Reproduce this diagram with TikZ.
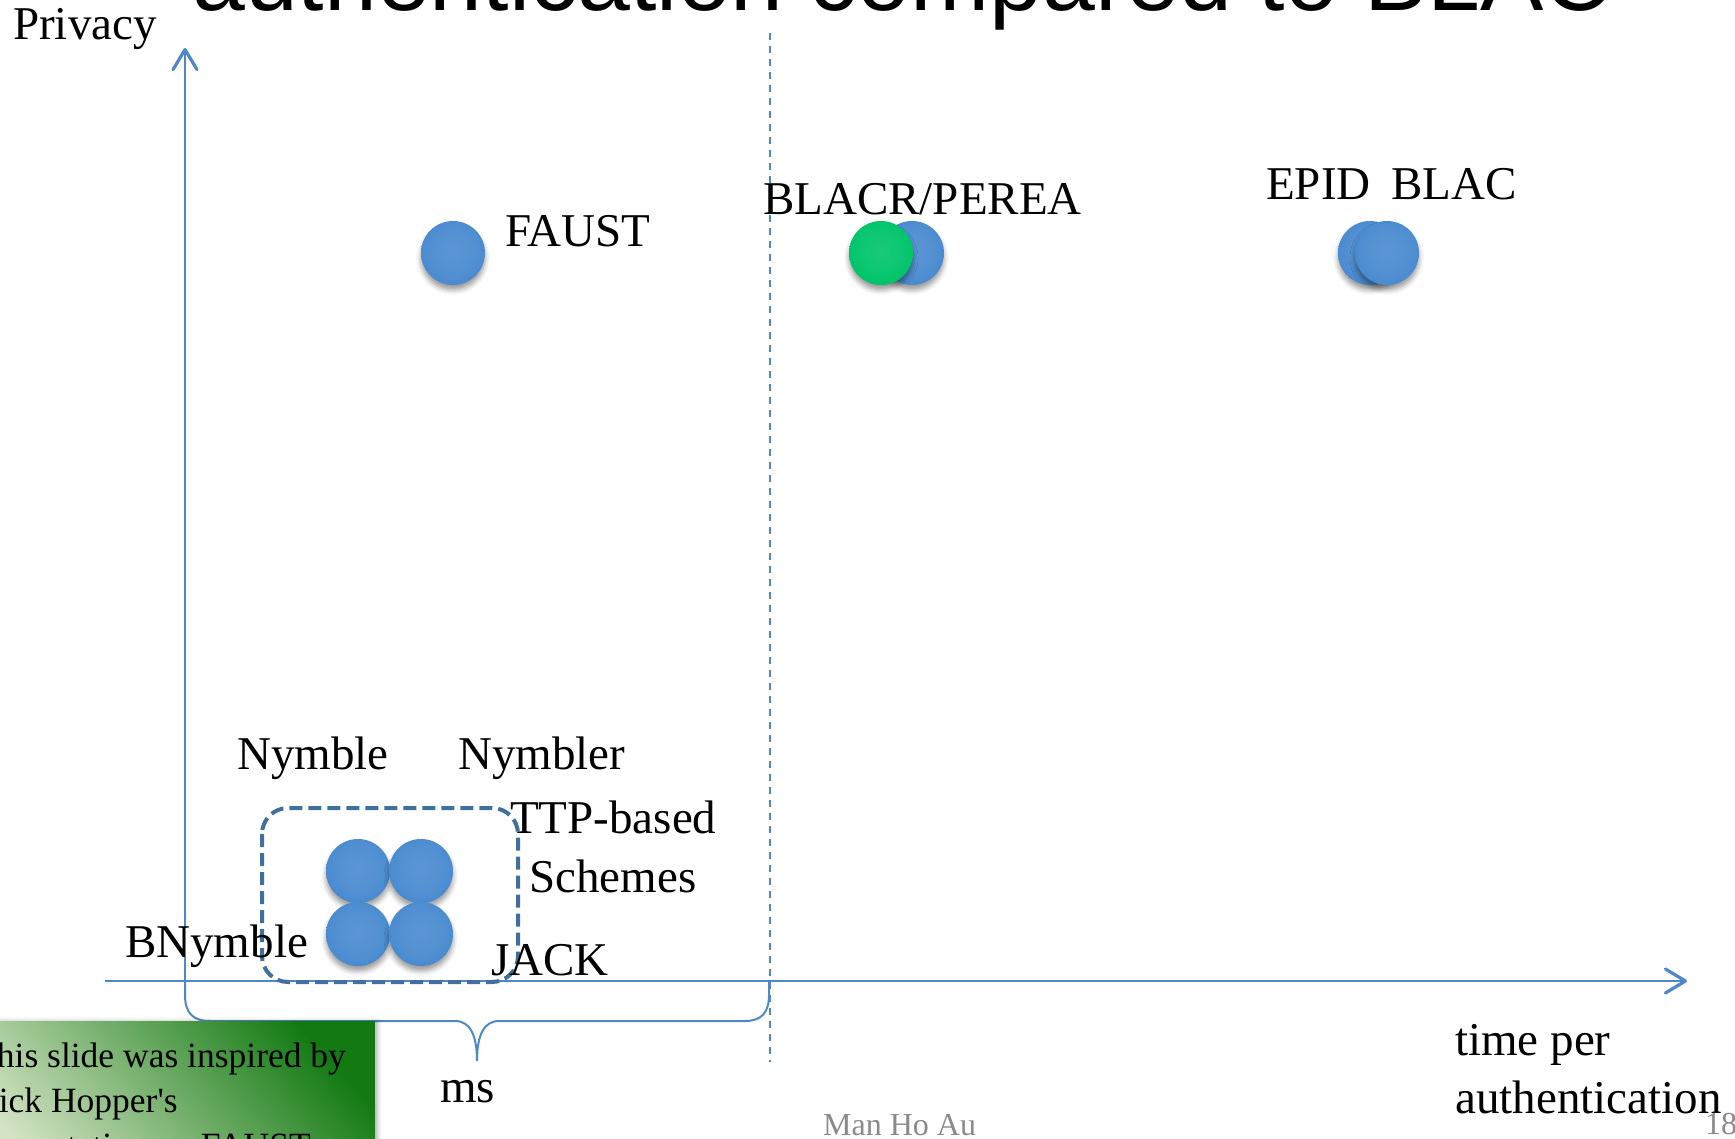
\documentclass[tikz,border=0pt]{standalone}
\usepackage{fontspec}
\setmainfont{Liberation Serif}
\newfontfamily\titlefont{Liberation Sans}
\usetikzlibrary{arrows.meta,shadows.blur}

\definecolor{axisblue}{HTML}{4F87C9}
\definecolor{boxblue}{HTML}{41709E}
\definecolor{capblue}{HTML}{4A8BD0}
\definecolor{capgreen}{HTML}{00C46A}
\definecolor{notedark}{HTML}{137A13}
\definecolor{notemid}{HTML}{86B367}
\definecolor{notelight}{HTML}{D3E3C3}
\definecolor{footgray}{HTML}{8A8A8A}

% flat "button" discs: lit face, bevelled rim darker towards the bottom
% (the disc edge lies at about 35bp of the shading)
\pgfdeclareradialshading{bluecap}{\pgfpoint{0bp}{2bp}}{%
  color(0bp)=(capblue!90!white); color(16bp)=(capblue!95!white);
  color(25bp)=(capblue); color(31bp)=(capblue!88!black);
  color(36bp)=(capblue!62!black); color(50bp)=(capblue!50!black)}
\pgfdeclareradialshading{greencap}{\pgfpoint{0bp}{2bp}}{%
  color(0bp)=(capgreen!90!white); color(16bp)=(capgreen!95!white);
  color(25bp)=(capgreen); color(31bp)=(capgreen!88!black);
  color(36bp)=(capgreen!62!black); color(50bp)=(capgreen!50!black)}

\tikzset{
  axisline/.style={draw=axisblue, line width=2.2pt,
    -{Straight Barb[length=20pt, width=24pt, line width=3.2pt, round]}},
  bracket/.style={draw=axisblue, line width=2pt},
  splitline/.style={draw=axisblue, line width=1.8pt, dash pattern=on 7pt off 6pt},
  groupbox/.style={draw=boxblue, line width=4pt, dash pattern=on 13pt off 6pt,
    rounded corners=26pt},
  disc/.style={circle, minimum size=64pt, inner sep=0pt,
    blur shadow={shadow xshift=0pt, shadow yshift=-5pt,
      shadow blur radius=5pt, shadow opacity=40}},
  bluedisc/.style={disc, shading=bluecap},
  greendisc/.style={disc, shading=greencap},
  lbl/.style={font=\fontsize{47}{58}\selectfont, inner sep=0pt, anchor=base west},
  notetxt/.style={font=\fontsize{35.5}{45}\selectfont, inner sep=0pt, anchor=base west},
  foot/.style={font=\fontsize{32}{38}\selectfont, text=footgray, inner sep=0pt,
    anchor=base west},
  notebox/.style={inner sep=0pt, minimum width=400pt, minimum height=160pt,
    top color=notedark, middle color=notemid, bottom color=notelight,
    shading angle=-48,
    blur shadow={shadow xshift=3pt, shadow yshift=0pt,
      shadow blur radius=4pt, shadow opacity=30}},
}

\begin{document}
\begin{tikzpicture}[x=1pt, y=-1pt]
\useasboundingbox (0,0) rectangle (1735,1139);
\clip (0,0) rectangle (1735,1139);

% slide title, running off the top edge
\node[font=\titlefont\fontsize{95}{100}\selectfont, inner sep=0pt,
  anchor=base west] (title) at (192,11) {authentication compared to BLAC};

% reference points of the chart
\coordinate (origin) at (185,981);
\coordinate (ytop)   at (185,48);
\coordinate (xstart) at (105,981);
\coordinate (xend)   at (1687,981);
\coordinate (splittop) at (770,33);
\coordinate (splitbot) at (770,1062);
\coordinate (braceend) at (769,981);

% millisecond region divider
\draw[splitline] (splittop) -- (splitbot);

% axes
\draw[axisline] (xstart) -- (xend);
\draw[axisline] (origin) -- (ytop);

% brace under the millisecond region
\draw[bracket] (origin) -- (185,995)
  .. controls (185,1012) and (192,1021) .. (210,1021) -- (455,1021)
  .. controls (470,1021) and (477,1035) .. (477,1061)
  .. controls (477,1035) and (484,1021) .. (499,1021) -- (745,1021)
  .. controls (762,1021) and (769,1012) .. (769,995) -- (braceend);

% schemes
\node[bluedisc] (faust) at (453,253) {};
\node[bluedisc] (perea) at (912,253) {};
\node[greendisc] (blacr) at (881,253) {};
\node[bluedisc] (epid) at (1370,253) {};
\node[bluedisc] (blac) at (1387,253) {};

\node[bluedisc] (nymble)  at (358,871) {};
\node[bluedisc] (nymbler) at (421,871) {};
\node[bluedisc] (bnymble) at (358,934) {};
\node[bluedisc] (jack)    at (421,934) {};

% TTP-based group
\draw[groupbox] (262,808) rectangle (518,982);

% labels
\node[lbl] (privacy) at (13,40) {Privacy};
\node[lbl] (faustlbl) at (505,247) {FAUST};
\node[lbl] (blacrlbl) at (763,215) {BLACR/PEREA};
\node[lbl] (epidlbl) at (1266,200) {EPID};
\node[lbl] (blaclbl) at (1391,200) {BLAC};
\node[lbl] (nymblelbl) at (237,769) {Nymble};
\node[lbl] (nymblerlbl) at (458,769) {Nymbler};
\node[lbl] (ttplbl) at (510,833) {TTP-based};
\node[lbl] (schemeslbl) at (529,892) {Schemes};
\node[lbl] (bnymblelbl) at (125,957) {BNymble};
\node[lbl] (jacklbl) at (491,975) {JACK};
\node[lbl] (mslbl) at (440,1102) {ms};
\node[lbl] (timelbl) at (1455,1055) {time per};
\node[lbl] (authlbl) at (1455,1113) {authentication};

% credit note in the lower left corner
\node[notebox, anchor=north east] (note) at (375,1021) {};
\node[notetxt] (note1) at (-25,1067) {This slide was inspired by};
\node[notetxt] (note2) at (-27,1112) {Nick Hopper\textquotesingle s};
\node[notetxt] (note3) at (-26,1157) {presentation on FAUST};

% footer
\node[foot] (author) at (823,1135) {Man Ho Au};
\node[foot] (page) at (1705,1134) {18};
\end{tikzpicture}
\end{document}
